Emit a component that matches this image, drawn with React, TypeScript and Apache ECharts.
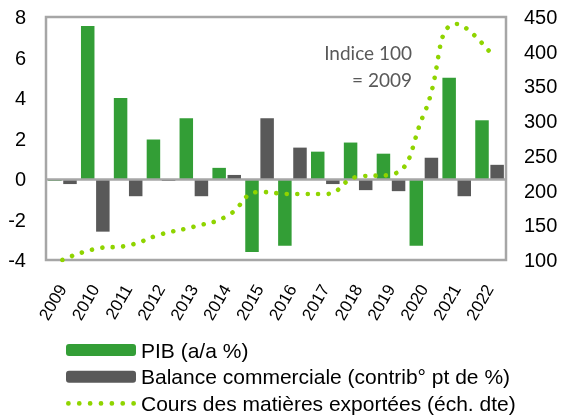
import React, { useEffect, useRef } from "react";
import * as echarts from "echarts";

const years = ["2009","2010","2011","2012","2013","2014","2015","2016","2017","2018","2019","2020","2021","2022"];
const pib = [-0.1, 7.55, 4.0, 1.95, 3.0, 0.55, -3.6, -3.3, 1.35, 1.8, 1.25, -3.3, 5.0, 2.9];
const balance = [-0.25, -2.6, -0.85, -0.1, -0.85, 0.2, 3.0, 1.55, -0.25, -0.55, -0.6, 1.05, -0.85, 0.7];
const cours = [100, 116, 121, 137, 148, 163, 198, 195, 195, 220, 223, 310, 440, 400];
const leftTicks = { min: -4, max: 8, interval: 2 };
const rightTicks = { min: 100, max: 450, interval: 50 };
const seriesNames = ["PIB (a/a %)", "Balance commerciale (contrib° pt de %)", "Cours des matières exportées (éch. dte)"];
const noteLines = ["Indice 100", "= 2009"];

const FONT = "'Liberation Sans', Arial, sans-serif";

// legend marker for the dotted line: seven round dots
function dotsPath(): string {
  const r = 2.3;
  let d = "";
  for (let i = 0; i < 7; i++) {
    const cx = r + i * 10.45;
    const cy = 6;
    d += `M${cx - r} ${cy}A${r} ${r} 0 1 0 ${cx + r} ${cy}A${r} ${r} 0 1 0 ${cx - r} ${cy}Z`;
  }
  return "path://" + d;
}

export default function App() {
  const ref = useRef<HTMLDivElement>(null);
  useEffect(() => {
    if (!ref.current) return;
    const chart = echarts.init(ref.current, undefined, { renderer: "svg" });
    chart.setOption({
      animation: false,
      textStyle: { fontFamily: FONT },
      grid: {
        left: 46, right: 57, top: 17, bottom: 155,
        show: true, borderColor: "#a6a6a6", borderWidth: 2.5, backgroundColor: "transparent",
      },
      legend: {
        orient: "vertical", left: 66, top: 339.5, height: 78, padding: 0,
        itemWidth: 70, itemHeight: 12, itemGap: 5.7,
        data: [
          { name: seriesNames[0] },
          { name: seriesNames[1] },
          { name: seriesNames[2], icon: dotsPath(), itemStyle: { color: "#8fd400" } },
        ],
        textStyle: { fontSize: 21, color: "#000", fontFamily: FONT },
      },
      xAxis: {
        type: "category", data: years,
        axisLine: { show: false }, axisTick: { show: false },
        axisLabel: {
          rotate: 60, interval: 0, margin: 26, fontSize: 17, color: "#000", fontFamily: FONT,
        },
      },
      yAxis: [
        {
          type: "value", ...leftTicks, splitLine: { show: false },
          axisLine: { show: false }, axisTick: { show: false },
          axisLabel: { fontSize: 20, color: "#000", margin: 20, fontFamily: FONT },
        },
        {
          type: "value", ...rightTicks, splitLine: { show: false },
          axisLine: { show: false }, axisTick: { show: false },
          axisLabel: { fontSize: 20, color: "#000", margin: 18, fontFamily: FONT },
        },
      ],
      series: [
        {
          name: seriesNames[0], type: "bar", data: pib, barWidth: 13.5, barGap: "12%",
          itemStyle: { color: "#339e36" },
          markLine: {
            silent: true, symbol: "none", label: { show: false },
            lineStyle: { color: "#a6a6a6", width: 2.5, type: "solid" },
            data: [{ yAxis: 0 }],
          },
        },
        {
          name: seriesNames[1], type: "bar", data: balance, barWidth: 13.5, barGap: "12%",
          itemStyle: { color: "#595959" },
        },
        {
          name: seriesNames[2], type: "line", yAxisIndex: 1, data: cours, smooth: 0.5,
          symbol: "none", showSymbol: false,
          itemStyle: { color: "#8fd400" },
          lineStyle: { color: "#8fd400", width: 4.6, type: [0.01, 10.45], cap: "round" },
          z: 5,
        },
      ],
      graphic: [
        {
          type: "text", x: 412, y: 38.5,
          style: {
            text: noteLines.join("\n"), fill: "#595959", font: "19px Lato, 'Open Sans', sans-serif",
            textAlign: "right", textVerticalAlign: "top", lineHeight: 27,
          },
        },
      ],
    });
    return () => chart.dispose();
  }, []);
  return <div ref={ref} style={{ position: "fixed", left: 0, top: 0, width: 563, height: 415 }} />;
}
